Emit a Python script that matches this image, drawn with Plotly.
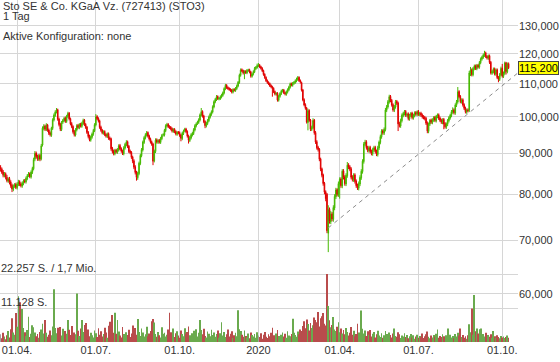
import math
import pandas as pd
import plotly.graph_objects as go

# ---------------- data (prices in thousands, volume in thousand shares) ----------------
TITLE = "Sto SE &amp; Co. KGaA Vz. (727413) (STO3)"
PERIOD = "1 Tag"
CONFIG_TEXT = "Aktive Konfiguration: none"
START_DATE = "2019-03-13"
HOLIDAYS = ["2019-04-19", "2019-04-22", "2019-05-01", "2019-12-24", "2019-12-25",
            "2019-12-26", "2019-12-31", "2020-01-01", "2020-04-10", "2020-04-13", "2020-05-01"]

open_ = [
    86.5, 86.0, 85.3, 84.4, 84.9, 84.0, 83.1, 83.7, 82.9, 82.1,
    81.1, 81.9, 82.3, 81.5, 82.3, 83.0, 82.4, 81.9, 82.5, 83.2,
    82.9, 83.7, 84.5, 84.9, 84.1, 85.2, 86.1, 88.5, 90.1, 89.3,
    88.5, 89.5, 88.6, 92.2, 96.7, 97.4, 96.4, 97.7, 96.3, 95.5,
    94.8, 96.7, 99.1, 100.4, 101.5, 102.1, 99.4, 97.9, 96.4, 98.5,
    98.9, 99.7, 98.7, 100.1, 101.1, 99.5, 98.1, 97.3, 95.9, 94.9,
    96.3, 97.6, 96.9, 97.9, 97.3, 98.1, 99.1, 97.9, 97.1, 95.7,
    94.6, 93.5, 94.3, 95.1, 96.1, 97.7, 100.1, 99.6, 98.9, 97.1,
    96.3, 95.4, 95.9, 95.1, 94.5, 95.3, 94.1, 93.9, 91.3, 90.6,
    89.9, 90.9, 90.3, 90.9, 92.1, 91.3, 90.7, 89.9, 91.4, 92.3,
    93.1, 91.9, 90.6, 90.3, 89.1, 88.1, 86.6, 85.3, 83.9, 84.9,
    87.4, 89.4, 90.9, 92.9, 94.1, 94.9, 95.6, 94.7, 93.9, 93.1,
    92.5, 88.1, 90.5, 93.6, 92.9, 93.5, 92.9, 93.9, 94.9, 94.9,
    96.1, 97.4, 97.9, 97.3, 97.1, 96.7, 95.9, 96.5, 95.9, 95.1,
    95.7, 95.6, 94.9, 93.9, 95.3, 96.1, 96.6, 95.9, 94.7, 93.4,
    94.1, 94.9, 95.3, 96.3, 97.4, 98.1, 98.4, 99.1, 100.5, 101.6,
    100.3, 98.7, 97.4, 98.1, 98.9, 99.9, 100.7, 101.4, 102.9, 104.4,
    105.1, 106.1, 105.3, 105.4, 105.9, 106.4, 107.1, 108.4, 109.6, 108.9,
    108.6, 108.3, 108.1, 107.4, 108.3, 107.9, 108.5, 109.3, 110.4, 112.7,
    114.6, 114.3, 113.4, 114.1, 113.5, 114.3, 114.6, 113.9, 112.4, 113.1,
    113.9, 114.9, 115.3, 115.9, 116.1, 115.6, 115.1, 114.3, 113.1, 112.1,
    111.1, 110.5, 110.1, 109.5, 109.1, 108.6, 107.6, 106.7, 107.1, 104.9,
    106.1, 106.9, 107.7, 108.1, 107.3, 106.7, 107.4, 108.1, 108.9, 110.1,
    109.5, 110.1, 110.4, 110.9, 111.4, 112.1, 111.1, 110.4, 108.1, 105.1,
    103.6, 102.6, 98.4, 101.9, 99.1, 96.4, 96.9, 99.1, 95.6, 93.1,
    91.6, 91.1, 88.6, 86.1, 84.6, 82.6, 80.6, 80.0, 71.5, 76.6,
    73.9, 75.6, 74.4, 76.9, 79.4, 81.1, 79.9, 82.4, 83.6, 81.9,
    85.6, 84.1, 82.4, 84.4, 87.1, 86.6, 86.1, 84.1, 83.4, 84.6,
    83.1, 82.1, 81.4, 82.4, 83.9, 85.4, 87.9, 92.4, 93.1, 91.6,
    90.7, 91.6, 90.6, 89.9, 90.9, 91.6, 90.6, 89.7, 91.4, 92.9,
    94.4, 96.1, 95.4, 96.4, 101.9, 102.9, 104.4, 106.1, 104.9, 103.6,
    101.9, 102.9, 104.6, 104.1, 98.1, 97.4, 98.9, 100.4, 100.9, 101.6,
    100.4, 100.9, 99.4, 100.4, 101.1, 99.7, 100.4, 101.3, 100.7, 101.6,
    100.7, 101.1, 100.6, 100.1, 99.9, 99.6, 98.3, 95.9, 97.9, 99.1,
    98.4, 99.1, 99.9, 98.9, 100.1, 100.6, 99.7, 99.1, 98.4, 99.3,
    98.1, 97.1, 97.9, 98.9, 99.7, 100.4, 101.4, 102.1, 101.1, 103.4,
    104.4, 107.6, 106.1, 104.4, 105.1, 103.6, 102.6, 101.4, 102.1, 101.9,
    113.4, 114.6, 112.9, 114.9, 115.9, 114.9, 116.1, 115.4, 116.9, 118.1,
    118.7, 119.4, 120.3, 119.1, 118.4, 119.3, 117.1, 113.4, 113.9, 114.9,
    113.1, 114.6, 112.1, 111.4, 112.9, 115.1, 112.4, 113.4, 116.9, 113.9,
    116.6,
]

high = [
    87.0, 86.4, 85.8, 85.3, 85.2, 84.6, 84.0, 84.1, 83.3, 82.5,
    82.3, 82.6, 82.7, 82.8, 83.4, 83.3, 82.8, 83.0, 83.5, 83.6,
    84.2, 84.8, 85.3, 85.2, 85.7, 86.6, 88.9, 90.6, 90.5, 89.7,
    89.8, 89.9, 92.5, 97.3, 97.9, 97.8, 98.2, 98.0, 96.7, 95.9,
    97.2, 99.6, 101.0, 101.9, 102.6, 102.4, 99.8, 98.3, 98.8, 99.4,
    100.0, 100.1, 100.6, 101.5, 101.4, 99.8, 98.5, 97.6, 96.3, 96.8,
    97.9, 98.0, 98.2, 98.3, 98.6, 99.5, 99.4, 98.2, 97.4, 96.0,
    95.0, 94.8, 95.6, 96.6, 98.2, 100.8, 100.5, 99.9, 99.2, 97.5,
    96.6, 96.2, 96.2, 95.4, 95.6, 95.6, 94.5, 94.2, 91.7, 91.0,
    91.2, 91.2, 91.4, 92.4, 92.5, 91.6, 91.0, 91.9, 92.8, 93.5,
    93.4, 92.2, 91.0, 90.6, 89.4, 88.5, 87.0, 85.6, 85.4, 87.9,
    89.9, 91.4, 93.4, 94.6, 95.4, 96.0, 95.9, 95.0, 94.2, 93.4,
    92.8, 91.0, 94.0, 94.0, 93.8, 93.8, 94.4, 95.2, 95.4, 96.6,
    97.9, 98.3, 98.2, 97.6, 97.4, 97.0, 96.8, 96.8, 96.2, 96.0,
    96.0, 95.9, 95.2, 95.8, 96.4, 96.9, 96.9, 96.2, 95.0, 94.6,
    95.4, 95.8, 96.8, 97.9, 98.4, 98.9, 99.6, 101.0, 102.6, 101.9,
    100.6, 99.0, 98.6, 99.4, 100.4, 101.2, 101.9, 103.4, 104.9, 105.6,
    106.5, 106.4, 105.9, 106.4, 106.9, 107.6, 108.9, 110.0, 109.9, 109.2,
    108.9, 108.6, 108.4, 108.6, 108.6, 109.0, 109.8, 110.9, 113.3, 115.0,
    115.0, 114.6, 114.4, 114.4, 114.8, 114.9, 114.9, 114.2, 113.6, 114.4,
    115.5, 115.8, 116.6, 116.8, 116.5, 115.9, 115.4, 114.6, 113.4, 112.4,
    111.4, 110.8, 110.4, 109.8, 109.4, 108.9, 107.9, 107.4, 107.4, 106.6,
    107.4, 108.2, 108.4, 108.4, 107.6, 107.9, 108.6, 109.4, 110.4, 110.4,
    110.6, 110.9, 111.4, 112.0, 112.5, 112.4, 111.4, 110.7, 108.4, 105.5,
    104.0, 102.9, 102.4, 102.2, 99.4, 97.5, 99.6, 99.4, 96.0, 93.5,
    92.0, 91.4, 88.9, 86.4, 84.9, 82.9, 80.9, 80.3, 77.5, 77.0,
    76.2, 76.0, 77.5, 80.0, 81.5, 81.4, 83.0, 84.0, 84.0, 86.0,
    86.0, 84.5, 85.0, 87.8, 87.5, 87.0, 86.5, 84.5, 85.0, 85.0,
    83.5, 82.5, 83.0, 84.5, 86.0, 88.5, 93.0, 93.6, 93.5, 92.0,
    92.0, 92.0, 91.0, 91.5, 92.0, 92.0, 91.0, 92.0, 93.4, 95.0,
    96.5, 96.5, 97.0, 102.6, 103.5, 105.0, 106.6, 106.5, 105.3, 104.0,
    103.5, 105.0, 105.0, 104.5, 98.6, 99.5, 101.0, 101.5, 102.0, 102.0,
    101.2, 101.3, 100.9, 101.4, 101.5, 100.9, 101.6, 101.7, 101.9, 102.0,
    101.4, 101.5, 101.0, 100.5, 100.3, 100.0, 98.7, 98.4, 99.4, 99.5,
    99.6, 100.2, 100.3, 100.6, 101.0, 101.0, 100.1, 99.5, 99.6, 99.7,
    98.5, 98.4, 99.4, 100.2, 100.9, 102.0, 102.8, 102.5, 104.0, 105.0,
    109.0, 108.0, 106.5, 105.5, 105.5, 104.0, 103.0, 102.4, 102.5, 114.2,
    115.5, 115.0, 115.5, 116.3, 116.3, 116.5, 116.5, 117.5, 118.7, 119.3,
    120.0, 121.0, 120.7, 119.5, 119.7, 119.7, 117.5, 114.5, 115.3, 115.3,
    115.0, 115.0, 112.5, 113.5, 115.6, 116.5, 114.0, 117.3, 117.2, 117.0,
    117.0,
]

low = [
    85.4, 84.8, 84.0, 84.0, 83.5, 82.8, 82.7, 82.3, 81.5, 80.5,
    80.7, 81.5, 81.2, 81.1, 81.9, 81.9, 81.6, 81.5, 82.1, 82.6,
    82.5, 83.3, 84.1, 83.8, 83.7, 84.8, 85.7, 88.0, 88.7, 88.1,
    88.1, 88.0, 88.2, 91.8, 96.2, 96.0, 96.0, 95.8, 94.9, 94.5,
    94.4, 96.3, 98.7, 100.0, 101.0, 98.9, 97.3, 96.0, 96.0, 98.0,
    98.5, 98.3, 98.3, 99.7, 99.0, 97.6, 96.8, 95.3, 94.5, 94.5,
    95.9, 96.6, 96.5, 97.0, 96.9, 97.7, 97.4, 96.6, 95.2, 94.0,
    93.2, 93.1, 93.9, 94.7, 95.7, 97.3, 99.1, 98.4, 96.6, 95.8,
    95.1, 95.0, 94.6, 94.2, 94.1, 93.6, 93.4, 90.7, 90.0, 89.5,
    89.5, 90.0, 89.9, 90.5, 90.8, 90.2, 89.6, 89.5, 91.0, 91.9,
    91.4, 90.1, 89.8, 88.6, 87.5, 86.0, 84.7, 83.2, 83.4, 84.5,
    87.0, 89.0, 90.5, 92.5, 93.7, 94.5, 94.2, 93.4, 92.6, 92.0,
    87.0, 87.7, 90.1, 92.6, 92.5, 92.6, 92.5, 93.5, 94.5, 94.5,
    95.7, 97.0, 96.8, 96.6, 96.2, 95.6, 95.5, 95.4, 94.8, 94.7,
    95.1, 94.4, 93.2, 93.5, 94.9, 95.7, 95.4, 94.2, 92.6, 93.0,
    93.7, 94.5, 94.9, 95.9, 97.0, 97.7, 98.0, 98.7, 100.1, 99.8,
    98.2, 96.8, 97.0, 97.7, 98.5, 99.5, 100.3, 101.0, 102.5, 104.0,
    104.7, 105.0, 104.9, 105.0, 105.5, 106.0, 106.7, 108.0, 108.4, 108.1,
    107.8, 107.5, 107.0, 107.0, 107.6, 107.5, 108.1, 108.9, 110.0, 112.3,
    113.8, 113.0, 111.5, 113.2, 113.1, 113.9, 113.4, 112.0, 112.0, 112.7,
    113.5, 114.5, 114.9, 115.5, 115.1, 114.6, 113.8, 112.6, 111.6, 110.6,
    110.0, 109.6, 109.0, 108.6, 106.0, 107.1, 106.4, 106.3, 104.5, 104.5,
    105.7, 106.5, 107.3, 106.8, 106.4, 106.3, 107.0, 107.7, 108.5, 109.2,
    109.1, 109.7, 110.0, 110.5, 111.0, 110.6, 110.1, 107.6, 104.6, 103.1,
    102.1, 98.1, 96.2, 98.6, 96.0, 96.0, 96.5, 95.0, 92.5, 91.0,
    90.5, 88.0, 85.5, 84.0, 82.0, 80.0, 78.4, 71.5, 67.7, 73.5,
    73.4, 74.0, 73.9, 76.4, 78.9, 79.5, 79.4, 79.0, 81.5, 81.4,
    83.5, 82.0, 81.9, 83.9, 86.0, 85.5, 83.5, 83.0, 82.9, 82.5,
    81.5, 81.0, 80.9, 81.9, 83.4, 84.9, 87.4, 91.9, 91.0, 90.3,
    90.2, 90.0, 89.5, 89.4, 90.4, 90.0, 89.3, 89.2, 90.9, 92.4,
    93.9, 95.0, 94.9, 95.9, 101.4, 102.4, 103.9, 104.3, 103.0, 101.5,
    101.4, 102.4, 103.5, 96.0, 97.0, 96.9, 98.4, 99.9, 100.4, 100.0,
    99.9, 99.0, 98.9, 99.9, 99.3, 99.2, 99.9, 100.3, 100.2, 100.3,
    100.2, 100.0, 99.5, 99.3, 99.0, 97.7, 95.4, 95.4, 97.4, 98.0,
    97.9, 98.6, 98.5, 98.4, 99.6, 99.1, 98.5, 98.0, 97.9, 96.5,
    96.7, 96.6, 97.4, 98.4, 99.2, 99.9, 100.9, 100.7, 100.6, 102.9,
    103.9, 105.5, 104.0, 103.9, 103.0, 102.0, 101.0, 100.9, 101.3, 101.4,
    112.5, 112.4, 112.4, 114.4, 114.5, 114.4, 115.0, 114.9, 116.4, 117.6,
    118.2, 118.9, 118.5, 118.0, 117.9, 116.5, 113.0, 112.9, 113.4, 112.7,
    112.6, 111.5, 110.5, 110.9, 112.4, 112.0, 111.9, 112.9, 113.0, 113.4,
    114.8,
]

close = [
    86.0, 85.2, 84.5, 84.8, 84.0, 83.2, 83.6, 82.8, 82.0, 81.2,
    81.8, 82.2, 81.6, 82.4, 82.9, 82.3, 82.0, 82.6, 83.1, 83.0,
    83.8, 84.4, 84.8, 84.2, 85.3, 86.2, 88.4, 90.0, 89.2, 88.6,
    89.4, 88.5, 92.0, 96.8, 97.3, 96.5, 97.6, 96.2, 95.4, 95.0,
    96.8, 99.2, 100.5, 101.4, 102.0, 99.3, 97.8, 96.5, 98.4, 99.0,
    99.6, 98.8, 100.2, 101.0, 99.4, 98.0, 97.2, 95.8, 95.0, 96.4,
    97.5, 97.0, 97.8, 97.4, 98.2, 99.0, 97.8, 97.0, 95.6, 94.5,
    93.6, 94.4, 95.2, 96.2, 97.8, 100.0, 99.5, 98.8, 97.0, 96.2,
    95.5, 95.8, 95.0, 94.6, 95.2, 94.0, 93.8, 91.2, 90.5, 90.0,
    90.8, 90.4, 91.0, 92.0, 91.2, 90.6, 90.0, 91.5, 92.4, 93.0,
    91.8, 90.5, 90.2, 89.0, 88.0, 86.5, 85.2, 84.0, 85.0, 87.5,
    89.5, 91.0, 93.0, 94.2, 95.0, 95.5, 94.6, 93.8, 93.0, 92.4,
    88.0, 90.6, 93.5, 93.0, 93.4, 93.0, 94.0, 94.8, 95.0, 96.2,
    97.5, 97.8, 97.2, 97.0, 96.6, 96.0, 96.4, 95.8, 95.2, 95.6,
    95.5, 94.8, 94.0, 95.4, 96.0, 96.5, 95.8, 94.6, 93.5, 94.2,
    95.0, 95.4, 96.4, 97.5, 98.0, 98.5, 99.2, 100.6, 101.5, 100.2,
    98.6, 97.5, 98.2, 99.0, 100.0, 100.8, 101.5, 103.0, 104.5, 105.2,
    106.0, 105.4, 105.5, 106.0, 106.5, 107.2, 108.5, 109.5, 108.8, 108.5,
    108.2, 108.0, 107.5, 108.2, 108.0, 108.6, 109.4, 110.5, 112.8, 114.5,
    114.2, 113.5, 114.0, 113.6, 114.4, 114.5, 113.8, 112.5, 113.2, 114.0,
    115.0, 115.4, 116.0, 116.0, 115.5, 115.0, 114.2, 113.0, 112.0, 111.0,
    110.4, 110.0, 109.4, 109.0, 108.5, 107.5, 106.8, 107.0, 105.0, 106.2,
    107.0, 107.8, 108.0, 107.2, 106.8, 107.5, 108.2, 109.0, 110.0, 109.6,
    110.2, 110.5, 111.0, 111.5, 112.0, 111.0, 110.5, 108.0, 105.0, 103.5,
    102.5, 98.5, 101.8, 99.0, 96.5, 97.0, 99.0, 95.5, 93.0, 91.5,
    91.0, 88.5, 86.0, 84.5, 82.5, 80.5, 79.0, 72.0, 76.5, 74.0,
    75.5, 74.5, 77.0, 79.5, 81.0, 80.0, 82.5, 83.5, 82.0, 85.5,
    84.0, 82.5, 84.5, 87.0, 86.5, 86.0, 84.0, 83.5, 84.5, 83.0,
    82.0, 81.5, 82.5, 84.0, 85.5, 88.0, 92.5, 93.0, 91.5, 90.8,
    91.5, 90.5, 90.0, 91.0, 91.5, 90.5, 89.8, 91.5, 93.0, 94.5,
    96.0, 95.5, 96.5, 102.0, 103.0, 104.5, 106.0, 104.8, 103.5, 102.0,
    103.0, 104.5, 104.0, 98.0, 97.5, 99.0, 100.5, 101.0, 101.5, 100.5,
    100.8, 99.5, 100.5, 101.0, 99.8, 100.5, 101.2, 100.8, 101.5, 100.8,
    101.0, 100.5, 100.0, 99.8, 99.5, 98.2, 96.0, 98.0, 99.0, 98.5,
    99.2, 99.8, 99.0, 100.2, 100.5, 99.6, 99.0, 98.5, 99.2, 98.0,
    97.2, 98.0, 99.0, 99.8, 100.5, 101.5, 102.0, 101.2, 103.5, 104.5,
    107.5, 106.0, 104.5, 105.0, 103.5, 102.5, 101.5, 102.0, 101.8, 113.5,
    114.5, 113.0, 115.0, 115.8, 115.0, 116.0, 115.5, 117.0, 118.2, 118.8,
    119.5, 120.2, 119.0, 118.5, 119.2, 117.0, 113.5, 114.0, 114.8, 113.2,
    114.5, 112.0, 111.5, 113.0, 115.0, 112.5, 113.5, 116.8, 114.0, 116.5,
    115.2,
]

volume = [
    2.5, 1.2, 3.0, 1.8, 0.9, 2.2, 3.6, 1.5, 4.2, 7.8,
    3.1, 2.4, 9.5, 5.0, 15.0, 13.0, 4.4, 10.8, 4.6, 3.2,
    2.0, 3.9, 8.3, 1.6, 2.7, 5.5, 4.8, 3.1, 1.9, 2.6,
    1.4, 3.3, 4.1, 6.0, 2.8, 7.2, 3.0, 1.7, 2.4, 3.8,
    2.2, 5.1, 17.3, 4.6, 2.9, 4.7, 3.4, 4.9, 2.1, 4.3,
    1.8, 3.6, 2.7, 7.2, 4.0, 2.3, 5.2, 1.6, 3.1, 2.5,
    15.9, 3.7, 2.0, 4.4, 7.2, 3.3, 5.6, 6.2, 2.6, 4.1,
    1.9, 3.0, 2.2, 1.5, 3.8, 2.9, 1.6, 4.5, 2.4, 3.5,
    1.8, 2.6, 4.7, 3.1, 1.4, 5.3, 6.6, 4.2, 8.8, 3.0,
    9.6, 2.7, 7.2, 3.4, 2.1, 1.5, 4.9, 2.6, 1.7, 3.2,
    2.3, 4.0, 1.6, 2.8, 5.4, 3.7, 4.6, 2.4, 7.5, 3.3,
    2.0, 4.4, 3.1, 1.8, 2.5, 5.0, 1.9, 2.8, 3.6, 6.8,
    7.5, 6.4, 2.6, 1.7, 3.3, 2.2, 1.5, 4.8, 2.7, 3.0,
    1.8, 2.4, 4.1, 9.6, 3.2, 2.0, 4.4, 1.6, 2.9, 3.5,
    2.1, 1.4, 3.8, 2.6, 1.9, 4.5, 2.8, 3.3, 5.1, 2.2,
    1.6, 2.9, 3.7, 2.4, 4.2, 1.8, 3.0, 7.2, 3.9, 2.5,
    4.3, 2.0, 1.5, 3.4, 2.7, 1.9, 4.0, 2.3, 3.1, 1.7,
    2.6, 3.8, 1.4, 2.9, 6.5, 2.1, 3.3, 1.6, 2.5, 4.1,
    1.8, 2.7, 3.5, 1.3, 2.2, 3.0, 1.9, 10.4, 4.2, 3.6,
    2.4, 1.7, 3.8, 2.0, 1.5, 2.8, 1.2, 3.1, 2.3, 1.8,
    2.6, 1.4, 3.2, 2.1, 1.6, 2.9, 1.1, 2.4, 3.3, 1.7,
    1.3, 2.5, 1.9, 3.0, 4.7, 2.2, 1.5, 2.8, 3.9, 2.0,
    1.6, 2.4, 3.1, 1.8, 2.7, 1.4, 3.5, 2.1, 1.9, 2.6,
    7.6, 3.0, 2.3, 1.7, 3.4, 2.5, 4.1, 3.6, 5.2, 6.8,
    4.5, 7.4, 5.9, 3.8, 6.2, 4.6, 5.5, 8.0, 7.2, 6.5,
    9.8, 5.1, 7.8, 8.4, 9.5, 6.0, 5.4, 22.257, 11.8, 7.1,
    4.8, 5.6, 8.2, 4.1, 3.6, 5.0, 6.5, 3.2, 4.4, 2.8,
    3.9, 2.5, 4.6, 3.3, 2.1, 3.0, 4.9, 2.4, 3.7, 1.9,
    2.6, 6.0, 3.1, 2.2, 10.3, 4.3, 2.8, 3.8, 2.0, 3.5,
    2.4, 3.9, 1.8, 2.7, 3.3, 1.5, 2.5, 3.7, 2.1, 1.6,
    2.9, 1.4, 2.2, 3.6, 2.6, 1.9, 3.1, 2.3, 1.5, 2.8,
    4.4, 2.0, 1.7, 3.2, 2.5, 1.3, 2.1, 1.8, 2.9, 1.6,
    2.3, 1.2, 1.9, 2.6, 1.5, 2.2, 1.1, 1.8, 2.4, 1.4,
    2.0, 1.6, 2.8, 1.3, 1.9, 2.5, 3.4, 1.7, 1.2, 2.1,
    1.5, 2.3, 1.8, 2.7, 4.1, 1.4, 2.0, 1.6, 2.5, 1.9,
    1.3, 2.2, 4.4, 1.7, 2.4, 1.5, 2.0, 1.2, 2.6, 1.8,
    3.0, 2.1, 4.4, 1.6, 2.3, 1.4, 1.9, 1.1, 2.2, 5.8,
    3.2, 11.0, 2.4, 15.4, 3.5, 4.4, 2.8, 4.2, 4.4, 2.0,
    2.6, 1.8, 3.0, 1.5, 2.3, 1.7, 2.5, 1.3, 3.6, 1.9,
    1.4, 2.2, 1.6, 1.2, 2.0, 1.5, 1.8, 1.3, 1.6, 2.1,
    1.4,
]

PRICE_TICKS = [60, 70, 80, 90, 100, 110, 120, 130]
PRICE_RANGE = [52.24, 140.1]
VOL_LINES = [11.128, 22.257]
VOL_LABELS = ["11.128 S.", "22.257 S. / 1,7 Mio."]
VOL_RANGE_MAX = 111.94
LAST_PRICE = 115.2
LAST_PRICE_TEXT = "115,200"
TREND_X = [258, 440]
TREND_Y = [72.6, 125.2]

# ---------------- styling ----------------
FONT = "Liberation Sans, Arial, sans-serif"
TXT = "#333333"
GRID = "#d6d6d6"
UP = "#46b900"
DOWN = "#e00000"
VOL_UP = "#6aaa4e"
VOL_DOWN = "#b94c4c"
VOL_FLAT = "#a0a0a0"

n = min(len(open_), len(high), len(low), len(close), len(volume))
idx = list(range(n))
dates = pd.bdate_range(start=START_DATE, periods=n, freq="C", holidays=HOLIDAYS)

tickvals, ticktext = [], []
prev_q = None
for i, d in enumerate(dates):
    q = (d.year, (d.month - 1) // 3)
    if prev_q is not None and q != prev_q:
        tickvals.append(i)
        ticktext.append(str(d.year) if d.month == 1 else "01.%02d." % d.month)
    prev_q = q

vol_colors = []
for i in range(n):
    if i == 0 or close[i] == close[i - 1]:
        vol_colors.append(VOL_FLAT)
    elif close[i] > close[i - 1]:
        vol_colors.append(VOL_UP)
    else:
        vol_colors.append(VOL_DOWN)

fig = go.Figure()
fig.add_trace(go.Bar(
    x=idx, y=volume[:n], marker=dict(color=vol_colors, line=dict(width=0)),
    yaxis="y2", width=0.6, showlegend=False, hoverinfo="skip"))
fig.add_trace(go.Candlestick(
    x=idx, open=open_[:n], high=high[:n], low=low[:n], close=close[:n],
    increasing=dict(line=dict(color=UP, width=1), fillcolor=UP),
    decreasing=dict(line=dict(color=DOWN, width=1), fillcolor=DOWN),
    whiskerwidth=0, showlegend=False, hoverinfo="skip"))
fig.add_trace(go.Scatter(
    x=TREND_X, y=TREND_Y, mode="lines",
    line=dict(color="#8c8c8c", width=1, dash="4px,4px"),
    showlegend=False, hoverinfo="skip"))

annotations = [
    dict(text=TITLE, xref="paper", yref="paper", x=0, y=1, xanchor="left", yanchor="top",
         showarrow=False, font=dict(size=11, color=TXT, family=FONT), xshift=1, yshift=2),
    dict(text=PERIOD, xref="paper", yref="paper", x=0, y=1, xanchor="left", yanchor="top",
         showarrow=False, font=dict(size=11, color=TXT, family=FONT), xshift=1, yshift=-8),
    dict(text=CONFIG_TEXT, xref="paper", yref="paper", x=0, y=1, xanchor="left", yanchor="top",
         showarrow=False, font=dict(size=11, color=TXT, family=FONT), xshift=1, yshift=-28),
    dict(text=LAST_PRICE_TEXT, xref="paper", yref="y", x=1, y=math.log10(LAST_PRICE),
         xanchor="left", yanchor="middle", showarrow=False, bgcolor="#ffff00",
         bordercolor="#444444", borderwidth=1, borderpad=0,
         font=dict(size=11, color="#000000", family=FONT)),
]
for v, t in zip(VOL_LINES, VOL_LABELS):
    annotations.append(dict(text=t, xref="paper", yref="y2", x=0, y=v, xanchor="left",
                            yanchor="bottom", showarrow=False, xshift=-1, yshift=-2,
                            font=dict(size=11, color=TXT, family=FONT)))

fig.update_layout(
    width=560, height=362,
    margin=dict(l=0, r=42, t=0, b=20),
    paper_bgcolor="white", plot_bgcolor="white",
    font=dict(family=FONT, size=11, color=TXT),
    bargap=0.2,
    xaxis=dict(range=[-0.47, 407.4], tickmode="array", tickvals=tickvals, ticktext=ticktext,
               showgrid=True, gridcolor=GRID, gridwidth=1, zeroline=False, showline=False,
               ticks="", rangeslider=dict(visible=False), fixedrange=True,
               ticklabelstandoff=0,
               tickfont=dict(size=11, color=TXT, family=FONT)),
    yaxis=dict(type="log", side="right",
               range=[math.log10(PRICE_RANGE[0]), math.log10(PRICE_RANGE[1])],
               tickmode="array", tickvals=PRICE_TICKS,
               ticktext=["{:,}".format(v * 1000) for v in PRICE_TICKS],
               showgrid=True, gridcolor=GRID, gridwidth=1, zeroline=False, showline=False,
               ticks="", tickfont=dict(size=11, color=TXT, family=FONT)),
    yaxis2=dict(overlaying="y", side="left", range=[0, VOL_RANGE_MAX],
                tickmode="array", tickvals=VOL_LINES, showticklabels=False,
                showgrid=True, gridcolor=GRID, gridwidth=1, zeroline=False, showline=False,
                ticks=""),
    annotations=annotations,
)

fig.write_html(
    "out.html",
    config={"displayModeBar": False},
    post_script="document.body.style.margin='0';document.body.style.padding='0';",
)
